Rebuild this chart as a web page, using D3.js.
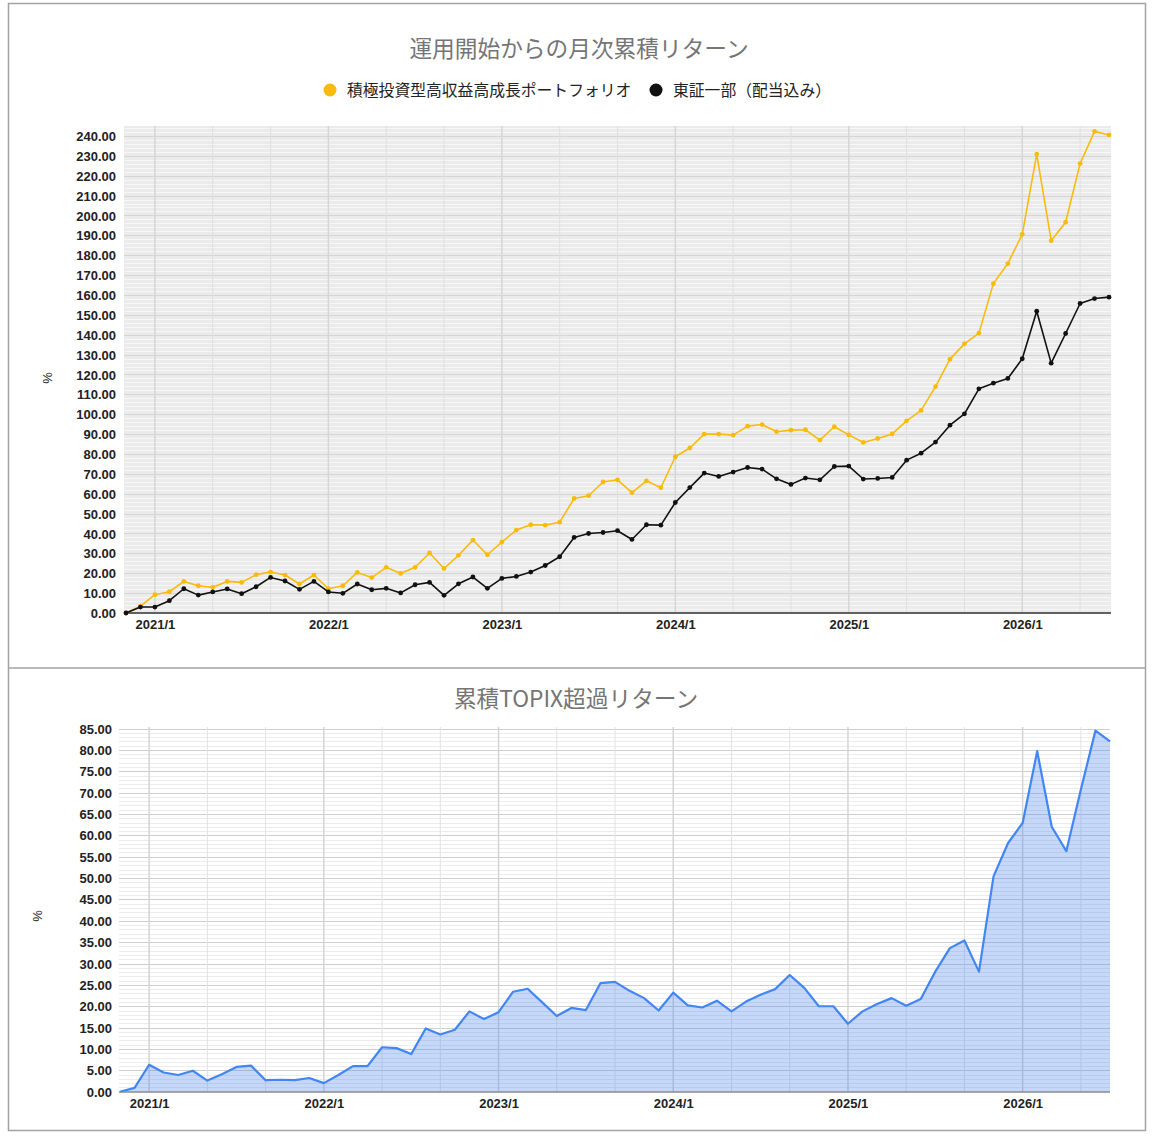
<!DOCTYPE html>
<html>
<head>
<meta charset="utf-8">
<script src="https://cdn.jsdelivr.net/npm/d3@7"></script>
<style>
  body { margin: 0; background: #fff; }
  svg { display: block; }
  .tick-label { font-family: "Liberation Sans", Arial, sans-serif; font-size: 13px; fill: #222; font-weight: bold; }
  .title { font-family: "Noto Sans CJK JP", sans-serif; font-size: 22.7px; fill: #757575; }
  .legend { font-family: "Noto Sans CJK JP", sans-serif; font-size: 15.8px; fill: #222; }
</style>
</head>
<body>
<svg id="chart" width="1154" height="1137"></svg>
<script>
// ---------- DATA ----------
const months = ['2020/11','2020/12',
  '2021/1','2021/2','2021/3','2021/4','2021/5','2021/6','2021/7','2021/8','2021/9','2021/10','2021/11','2021/12',
  '2022/1','2022/2','2022/3','2022/4','2022/5','2022/6','2022/7','2022/8','2022/9','2022/10','2022/11','2022/12',
  '2023/1','2023/2','2023/3','2023/4','2023/5','2023/6','2023/7','2023/8','2023/9','2023/10','2023/11','2023/12',
  '2024/1','2024/2','2024/3','2024/4','2024/5','2024/6','2024/7','2024/8','2024/9','2024/10','2024/11','2024/12',
  '2025/1','2025/2','2025/3','2025/4','2025/5','2025/6','2025/7','2025/8','2025/9','2025/10','2025/11','2025/12',
  '2026/1','2026/2','2026/3','2026/4','2026/5','2026/6','2026/7'];

const portfolioName = '積極投資型高収益高成長ポートフォリオ';
const topixName = '東証一部（配当込み）';

const portfolio = [0,3.4,9.2,10.7,15.9,13.7,12.9,15.9,15.4,19.3,20.6,19.1,14.6,19.1,12.2,13.7,20.4,17.8,23.0,19.9,23.0,30.2,22.4,
  29.0,36.7,29.3,35.7,41.7,44.4,44.2,45.7,57.6,59.0,65.9,67.0,60.6,66.5,63.0,78.6,83.0,90.0,90.0,89.5,94.0,94.8,91.2,92.0,92.2,87.0,93.7,89.6,85.8,87.8,90.1,
  96.7,101.9,113.9,127.7,135.4,140.8,165.7,175.8,190.5,230.9,187.3,196.6,226.1,242.3,240.5];

const topix = [0,3.0,3.0,6.2,12.2,9.0,10.6,12.1,9.7,13.2,17.9,16.1,11.9,15.9,10.6,9.9,14.6,11.7,12.4,10.1,14.2,15.4,8.9,
  14.7,18.1,12.4,17.4,18.4,20.6,23.9,28.3,38.0,40.0,40.5,41.4,37.0,44.4,44.2,55.6,63.1,70.4,68.7,70.9,73.2,72.4,67.5,64.7,67.9,67.0,73.7,73.9,67.4,67.7,68.2,
  76.9,80.4,86.0,94.5,100.2,112.8,115.6,118.0,127.9,151.8,125.7,140.6,155.7,158.2,158.9];

const excess = [0,0.9,6.3,4.5,3.9,4.9,2.6,4.1,5.8,6.1,2.7,2.8,2.7,3.2,2.0,3.9,6.0,6.0,10.4,10.2,8.8,14.8,13.4,14.5,18.8,17.0,18.6,
  23.4,24.1,20.9,17.7,19.6,19.1,25.4,25.7,23.6,21.9,19.0,23.2,20.2,19.7,21.3,18.8,21.1,22.7,24.0,27.3,24.3,20.0,20.0,15.9,18.8,20.5,21.9,
  20.1,21.7,28.1,33.6,35.4,28.1,50.4,58.2,62.9,79.7,62.0,56.3,70.7,84.5,82.0];

const xTickLabels = ['2021/1','2022/1','2023/1','2024/1','2025/1','2026/1'];
const xGridLabels = ['2021/1','2021/5','2021/9','2022/1','2022/5','2022/9','2023/1','2023/5','2023/9',
  '2024/1','2024/5','2024/9','2025/1','2025/5','2025/9','2026/1','2026/5'];
const topYTicks = [0,10,20,30,40,50,60,70,80,90,100,110,120,130,140,150,160,170,180,190,200,210,220,230,240];
const bottomYTicks = [0,5,10,15,20,25,30,35,40,45,50,55,60,65,70,75,80,85];

const chart1Title = '運用開始からの月次累積リターン';
const chart2Title = '累積TOPIX超過リターン';

// ---------- DRAW ----------
const svg = d3.select('#chart');

// outer frame
svg.append('rect').attr('x', 8.5).attr('y', 3.5).attr('width', 1137).attr('height', 1127)
  .attr('fill', '#fff').attr('stroke', '#a3a3a3').attr('stroke-width', 1.5);
svg.append('line').attr('x1', 8).attr('x2', 1145).attr('y1', 668).attr('y2', 668)
  .attr('stroke', '#a3a3a3').attr('stroke-width', 1.5);

// ===== Chart 1 =====
const p1 = { left: 124, right: 1111, top: 126, bottom: 613 };
const x1 = d3.scaleLinear().domain([0, months.length - 1]).range([126, 1109]);
const y1 = d3.scaleLinear().domain([0, 245]).range([p1.bottom, p1.top]);
const g1 = svg.append('g');

g1.append('rect').attr('x', p1.left).attr('y', p1.top).attr('width', p1.right - p1.left).attr('height', p1.bottom - p1.top)
  .attr('fill', '#ebebeb');
g1.append('g').selectAll('line').data(d3.range(2, 245, 2).filter(v => v % 10 !== 0)).join('line')
  .attr('x1', p1.left).attr('x2', p1.right)
  .attr('y1', d => Math.round(y1(d)) + 0.5).attr('y2', d => Math.round(y1(d)) + 0.5)
  .attr('stroke', '#f7f7f7').attr('stroke-width', 1.2);
g1.append('g').selectAll('line').data(topYTicks.slice(1)).join('line')
  .attr('x1', p1.left).attr('x2', p1.right)
  .attr('y1', d => Math.round(y1(d)) + 0.5).attr('y2', d => Math.round(y1(d)) + 0.5)
  .attr('stroke', '#d6d6d6').attr('stroke-width', 1);
g1.append('g').selectAll('line').data(xGridLabels).join('line')
  .attr('x1', d => x1(months.indexOf(d))).attr('x2', d => x1(months.indexOf(d)))
  .attr('y1', p1.top).attr('y2', p1.bottom)
  .attr('stroke', d => xTickLabels.includes(d) ? '#d6d6d6' : '#e0e0e0')
  .attr('stroke-width', d => xTickLabels.includes(d) ? 1.5 : 1);

const yAxis1 = d3.axisLeft(y1).tickValues(topYTicks).tickFormat(d3.format('.2f')).tickSize(0).tickPadding(8);
const ya1 = g1.append('g').attr('transform', `translate(${p1.left},0)`).call(yAxis1);
ya1.select('.domain').remove();
ya1.selectAll('text').attr('class', 'tick-label').attr('dy', '0.35em');

const xAxis1 = d3.axisBottom(x1).tickValues(xTickLabels.map(l => months.indexOf(l))).tickFormat(i => months[i]).tickSize(0).tickPadding(7);
const xa1 = g1.append('g').attr('transform', `translate(0,${p1.bottom})`).call(xAxis1);
xa1.select('.domain').remove();
xa1.selectAll('text').attr('class', 'tick-label');

g1.append('line').attr('x1', p1.left).attr('x2', p1.right).attr('y1', p1.bottom).attr('y2', p1.bottom)
  .attr('stroke', '#616161').attr('stroke-width', 2);

const line1 = d3.line().x((d, i) => x1(i)).y(d => y1(d));
const series1 = [
  { name: portfolioName, values: portfolio, color: '#f9bb0b' },
  { name: topixName, values: topix, color: '#111111' }
];
series1.forEach(s => {
  g1.append('path').datum(s.values).attr('d', line1).attr('fill', 'none')
    .attr('stroke', s.color).attr('stroke-width', 1.6).attr('stroke-linejoin', 'round');
  g1.append('g').selectAll('circle').data(s.values).join('circle')
    .attr('cx', (d, i) => x1(i)).attr('cy', d => y1(d)).attr('r', 2.4).attr('fill', s.color);
});

svg.append('text').attr('class', 'title').attr('x', 579).attr('y', 47).attr('text-anchor', 'middle')
  .attr('dominant-baseline', 'central').text(chart1Title);

const legendX = [330, 656];
series1.forEach((s, k) => {
  svg.append('circle').attr('cx', legendX[k]).attr('cy', 90).attr('r', 6.5).attr('fill', s.color);
  svg.append('text').attr('class', 'legend').attr('x', legendX[k] + 17).attr('y', 89.5)
    .attr('dominant-baseline', 'central').text(s.name);
});

svg.append('text').attr('class', 'tick-label').style('font-weight', 'normal')
  .attr('transform', 'translate(47,378) rotate(-90)').attr('text-anchor', 'middle')
  .attr('dominant-baseline', 'central').text('%');

// ===== Chart 2 =====
const p2 = { left: 119, right: 1110, top: 727, bottom: 1092 };
const x2 = d3.scaleLinear().domain([0, months.length - 1]).range([120, 1110]);
const y2 = d3.scaleLinear().domain([0, 85]).range([1091.7, 728.5]);
const g2 = svg.append('g');

g2.append('g').selectAll('line').data(d3.range(1, 86, 1).filter(v => v % 5 !== 0)).join('line')
  .attr('x1', p2.left).attr('x2', p2.right)
  .attr('y1', d => Math.round(y2(d)) + 0.5).attr('y2', d => Math.round(y2(d)) + 0.5)
  .attr('stroke', '#ececec').attr('stroke-width', 1);
g2.append('g').selectAll('line').data(bottomYTicks.slice(1)).join('line')
  .attr('x1', p2.left).attr('x2', p2.right)
  .attr('y1', d => Math.round(y2(d)) + 0.5).attr('y2', d => Math.round(y2(d)) + 0.5)
  .attr('stroke', '#cfcfcf').attr('stroke-width', 1);
g2.append('g').selectAll('line').data(xGridLabels).join('line')
  .attr('x1', d => x2(months.indexOf(d))).attr('x2', d => x2(months.indexOf(d)))
  .attr('y1', p2.top).attr('y2', p2.bottom)
  .attr('stroke', d => xTickLabels.includes(d) ? '#d4d4d4' : '#e2e2e2')
  .attr('stroke-width', d => xTickLabels.includes(d) ? 1.5 : 1);

const area2 = d3.area().x((d, i) => x2(i)).y0(y2(0)).y1(d => y2(d));
const line2 = d3.line().x((d, i) => x2(i)).y(d => y2(d));
g2.append('path').datum(excess).attr('d', area2).attr('fill', '#4a86f0').attr('fill-opacity', 0.32);
g2.append('path').datum(excess).attr('d', line2).attr('fill', 'none')
  .attr('stroke', '#4286f4').attr('stroke-width', 2.2).attr('stroke-linejoin', 'round');

const yAxis2 = d3.axisLeft(y2).tickValues(bottomYTicks).tickFormat(d3.format('.2f')).tickSize(0).tickPadding(7);
const ya2 = g2.append('g').attr('transform', `translate(${p2.left},0)`).call(yAxis2);
ya2.select('.domain').remove();
ya2.selectAll('text').attr('class', 'tick-label').attr('dy', '0.35em');

const xAxis2 = d3.axisBottom(x2).tickValues(xTickLabels.map(l => months.indexOf(l))).tickFormat(i => months[i]).tickSize(0).tickPadding(7);
const xa2 = g2.append('g').attr('transform', `translate(0,${p2.bottom})`).call(xAxis2);
xa2.select('.domain').remove();
xa2.selectAll('text').attr('class', 'tick-label');

g2.append('line').attr('x1', p2.left).attr('x2', p2.right).attr('y1', p2.bottom).attr('y2', p2.bottom)
  .attr('stroke', '#8a8a8a').attr('stroke-width', 1.5);

svg.append('text').attr('class', 'title').attr('x', 576).attr('y', 697).attr('text-anchor', 'middle')
  .attr('dominant-baseline', 'central').text(chart2Title);

svg.append('text').attr('class', 'tick-label').style('font-weight', 'normal')
  .attr('transform', 'translate(37,916) rotate(-90)').attr('text-anchor', 'middle')
  .attr('dominant-baseline', 'central').text('%');
</script>
</body>
</html>
